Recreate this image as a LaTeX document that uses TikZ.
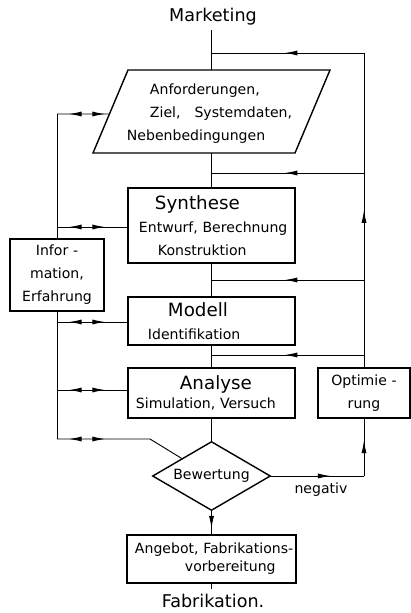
\documentclass[tikz,border=0pt]{standalone}
\usepackage{fontspec}
\setmainfont{DejaVu Sans}
\usetikzlibrary{arrows.meta,shapes.geometric,decorations.markings,calc}

\newcommand\headfont{\fontsize{13}{16}\selectfont}

\begin{document}
\begin{tikzpicture}[x=0.025cm, y=-0.025cm,
    >={Latex[length=9pt,width=3.6pt]},
    every node/.style={font=\fontsize{10}{16.3}\selectfont},
    box/.style={draw, line width=1pt, inner sep=0pt, align=left},
    flow/.style={line width=0.65pt},
    midarrow/.style={postaction={decorate}, decoration={markings,
        mark=at position #1 with {\arrow{>}}}},
    twoway/.style={postaction={decorate}, decoration={markings,
        mark=at position 0.3cm with {\arrowreversed{>}},
        mark=at position 1.2cm with {\arrow{>}}}}]
\useasboundingbox (0,0) rectangle (411,613);

% input
\node (mkt) at (213,17) {\fontsize{12.5}{15}\selectfont Marketing};
\coordinate (pa) at (128,70);
\coordinate (pb) at (330,70);
\coordinate (pc) at (295,153);
\coordinate (pd) at (93,153);
\draw[line width=1pt] (pa) -- (pb) -- (pc) -- (pd) -- cycle;
\node[align=left, anchor=west] (req) at (122,114)
    {\hspace*{0.575cm}Anforderungen,\\ \hspace*{0.575cm}Ziel,\hspace{0.35cm}Systemdaten,\\ Nebenbedingungen};

% main column
\node[box, text width=4.175cm, minimum height=1.875cm] (syn) at (211.5,225.5)
    {\hspace*{0.675cm}{\headfont Synthese}\\ \hspace*{0.275cm}Entwurf, Berechnung\\ \hspace*{0.75cm}Konstruktion};
\node[box, text width=4.175cm, minimum height=1.2cm] (mod) at (211.5,321)
    {\hspace*{1cm}{\headfont Modell}\\ \hspace*{0.5cm}Identifikation};
\node[box, text width=4.175cm, minimum height=1.25cm, font=\fontsize{10}{13.5}\selectfont] (ana) at (211.5,393)
    {\hspace*{1.3cm}{\headfont Analyse}\\ \hspace*{0.2cm}Simulation, Versuch};
\node[diamond, draw, line width=1pt, aspect=1.7, inner sep=0pt,
      minimum width=2.95cm, minimum height=1.725cm] (bew) at (211.5,476) {Bewertung};
\node[box, text width=4.225cm, minimum height=1.2cm, font=\fontsize{10}{12.8}\selectfont] (ang) at (211.5,559)
    {\hspace*{0.2cm}\mbox{Angebot, Fabrikations-}\\ \hspace*{1.45cm}vorbereitung};
\node (fab) at (213,601) {\fontsize{12.5}{15}\selectfont Fabrikation.};

% side boxes
\node[box, align=center, text width=2.35cm, minimum height=1.8cm] (info) at (57,275)
    {Infor -\\mation,\\Erfahrung};
\node[box, align=center, text width=2.3cm, minimum height=1.25cm] (opt) at (364,393)
    {Optimie -\\rung};

% main flow
\coordinate (ptop) at (211.5,70);
\coordinate (pbot) at (211.5,153);
\draw[flow] (ptop |- mkt.south) -- (ptop);
\draw[flow] (pbot) -- (syn.north);
\draw[flow] (syn.south) -- (mod.north);
\draw[flow] (mod.south) -- (ana.north);
\draw[flow] (ana.south) -- (bew.north);
\draw[flow, midarrow=0.75] (bew.south) -- (ang.north);
\draw[flow] (ang.south) -- (ang.south |- fab.north);

% optimisation loop
\coordinate (rtop) at (364,53);
\coordinate (r1) at (364,173);
\coordinate (r2) at (364,280);
\coordinate (r3) at (364,355);
\coordinate (corner) at (bew.east -| opt.south);
\draw[flow, midarrow=0.64] (bew.east) -- (corner);
\draw[flow, midarrow=0.62] (corner) -- (opt.south);
\node (neg) at (321,490) {negativ};
\draw[flow, midarrow=0.5] (opt.north) -- (rtop);
\draw[flow, midarrow=0.52] (rtop) -- (rtop -| ptop);
\draw[flow, midarrow=0.52] (r1) -- (r1 -| syn.north);
\draw[flow, midarrow=0.52] (r2) -- (r2 -| mod.north);
\draw[flow, midarrow=0.52] (r3) -- (r3 -| ana.north);

% information loop
\coordinate (lreq) at (57,114);
\coordinate (lsyn) at (57,227);
\coordinate (lmod) at (57,322);
\coordinate (lana) at (57,390);
\coordinate (lbew) at (57,439);
\coordinate (kink) at (150,439);
\draw[flow] (lreq) -- (info.north);
\draw[flow] (info.south) -- (lbew);
\draw[flow, twoway] (lreq) -- ($(pa)!{44/83}!(pd)$);
\draw[flow, twoway] (lsyn) -- (lsyn -| syn.west);
\draw[flow, twoway] (lmod) -- (lmod -| mod.west);
\draw[flow, twoway] (lana) -- (lana -| ana.west);
\draw[flow, twoway] (lbew) -- (kink) -- (bew.north west);
\end{tikzpicture}
\end{document}
